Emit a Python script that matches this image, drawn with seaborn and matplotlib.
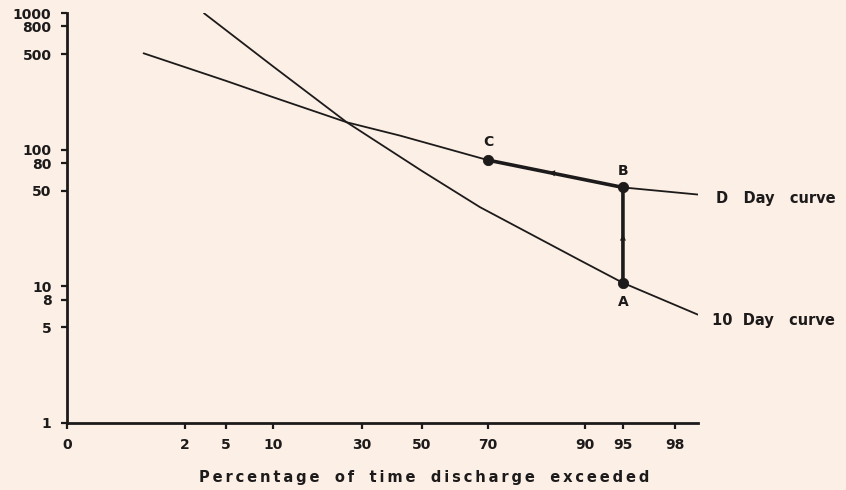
import numpy as np
import pandas as pd
import seaborn as sns
import matplotlib.pyplot as plt
from matplotlib.ticker import FixedLocator, FixedFormatter, NullLocator

# ---------------- DATA ----------------
x_ticks = [0, 2, 5, 10, 30, 50, 70, 90, 95, 98]
y_ticks = [1, 5, 8, 10, 50, 80, 100, 500, 800, 1000]

# D Day curve (percentage of time exceeded, discharge)
d_pct = [1.3, 5, 10, 26.6, 42.7, 70, 95, 99]
d_q = [509, 320, 243, 159, 127, 84, 53, 47]

# 10 Day curve
t_pct = [3.4, 10, 26.6, 50, 67.6, 89, 95, 99]
t_q = [1000, 409, 159, 70, 38, 15.5, 10.6, 6.2]

# construction points C -> B -> A
pt_names = ["C", "B", "A"]
pt_pct = [70, 95, 95]
pt_q = [84, 53, 10.6]

# ---------------- STYLE ----------------
sns.set_style("ticks")
plt.rcParams["font.family"] = ["DejaVu Sans"]
plt.rcParams["font.weight"] = "bold"
bg = "#fcefe5"
ink = "#1c1a1a"

# hand-drawn percentage axis: spacing of the original scale
scale_pct = [0, 2, 5, 10, 30, 50, 70, 90, 95, 98, 99]
scale_pos = [67, 185, 226, 273, 362, 422, 488, 585, 623, 675, 698]


def fwd(p):
    return np.interp(p, scale_pct, scale_pos)


def inv(v):
    return np.interp(v, scale_pos, scale_pct)


def spaced(s):
    # loose letter spacing like the typeset original
    return "\u2009".join(s)


fig = plt.figure(figsize=(8.46, 4.9), dpi=100, facecolor=bg)
ax = fig.add_axes([0.079, 0.137, 0.746, 0.836])
ax.set_facecolor(bg)
ax.set_xscale("function", functions=(fwd, inv))
ax.set_yscale("log")

d_df = pd.DataFrame({"pct": d_pct, "q": d_q})
t_df = pd.DataFrame({"pct": t_pct, "q": t_q})
p_df = pd.DataFrame({"pct": pt_pct, "q": pt_q, "name": pt_names})

sns.lineplot(data=d_df, x="pct", y="q", ax=ax, color=ink, lw=1.3,
             sort=False, estimator=None)
sns.lineplot(data=t_df, x="pct", y="q", ax=ax, color=ink, lw=1.3,
             sort=False, estimator=None)
sns.lineplot(data=p_df, x="pct", y="q", ax=ax, color=ink, lw=2.6,
             sort=False, estimator=None)
sns.scatterplot(data=p_df, x="pct", y="q", ax=ax, color=ink, s=55, zorder=5,
                edgecolor=ink)

# direction arrows on the construction path
c, b, a = pt_q
frac = (fwd(83) - fwd(pt_pct[0])) / (fwd(pt_pct[1]) - fwd(pt_pct[0]))
y83 = 10 ** (np.log10(c) + frac * (np.log10(b) - np.log10(c)))
ax.annotate("", xy=(82, y83 * 1.008), xytext=(84, y83 * 0.992),
            arrowprops=dict(arrowstyle="-|>", color=ink, lw=0, mutation_scale=11))
ym = np.sqrt(a * b)
ax.annotate("", xy=(pt_pct[1], ym * 1.06), xytext=(pt_pct[1], ym * 0.94),
            arrowprops=dict(arrowstyle="-|>", color=ink, lw=0, mutation_scale=11))

# point labels
offs = {"C": 13, "B": 12, "A": -14}
for _, r in p_df.iterrows():
    ax.annotate(r["name"], (r["pct"], r["q"]), xytext=(0, offs[r["name"]]),
                textcoords="offset points", ha="center", va="center",
                fontsize=10, fontweight="bold", color=ink)

# curve labels
ax.annotate("D   Day   curve", (d_pct[-1], d_q[-1]), xytext=(13, -3),
            textcoords="offset points", ha="left", va="center",
            fontsize=10.5, fontweight="bold", color=ink, annotation_clip=False)
ax.annotate("10  Day   curve", (t_pct[-1], t_q[-1]), xytext=(10, -4),
            textcoords="offset points", ha="left", va="center",
            fontsize=10.5, fontweight="bold", color=ink, annotation_clip=False)

# axes
ax.set_xlim(0, 99)
ax.set_ylim(1, 1000)
ax.xaxis.set_major_locator(FixedLocator(x_ticks))
ax.xaxis.set_major_formatter(FixedFormatter([str(v) for v in x_ticks]))
ax.xaxis.set_minor_locator(NullLocator())
ax.yaxis.set_major_locator(FixedLocator(y_ticks))
ax.yaxis.set_major_formatter(FixedFormatter([str(v) for v in y_ticks]))
ax.yaxis.set_minor_locator(NullLocator())

sns.despine(ax=ax)
for s in ["left", "bottom"]:
    ax.spines[s].set_linewidth(2.0)
    ax.spines[s].set_color(ink)
ax.tick_params(axis="both", colors=ink, width=1.6, length=4, labelsize=10)
ax.tick_params(axis="y", pad=7)
ax.tick_params(axis="x", pad=7)
for lab in ax.get_xticklabels() + ax.get_yticklabels():
    lab.set_fontweight("bold")

xl = "   ".join(spaced(w) for w in "Percentage of time discharge exceeded".split())
ax.set_xlabel(xl, fontsize=10.5, fontweight="bold", color=ink)
ax.xaxis.set_label_coords(0.567, -0.115)
ax.set_ylabel("")

fig.savefig("out.png", dpi=100, facecolor=bg)
